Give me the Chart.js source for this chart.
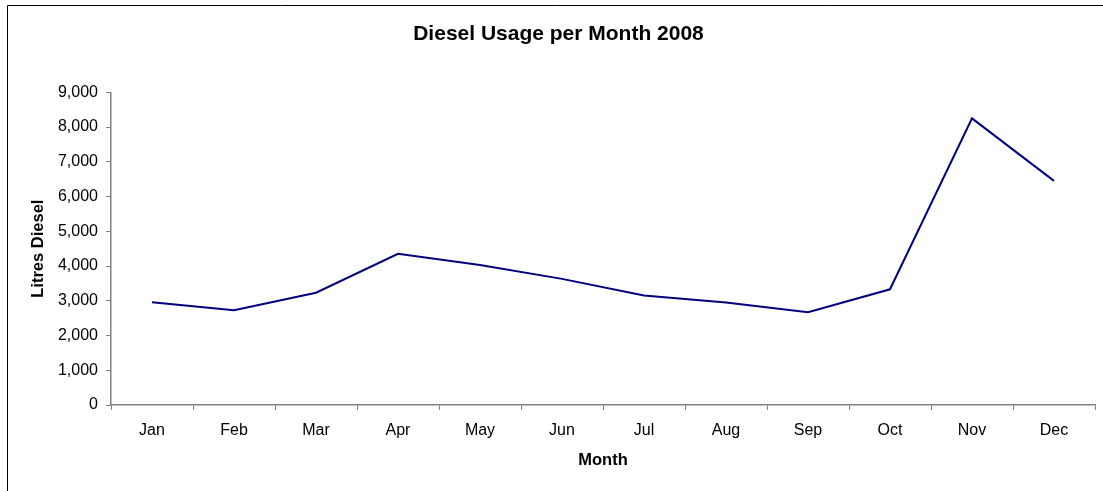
<!DOCTYPE html>
<html>
<head>
<meta charset="utf-8">
<title>Diesel Usage per Month 2008</title>
<script src="https://cdn.jsdelivr.net/npm/chart.js@4/dist/chart.umd.min.js"></script>
<style>
  html, body { margin: 0; padding: 0; background: #ffffff; }
  #wrap { position: relative; width: 1103px; height: 491px; }
</style>
</head>
<body>
<div id="wrap"><canvas id="chart" width="1103" height="491"></canvas></div>
<script>
// Monthly diesel consumption, litres
const months = ['Jan', 'Feb', 'Mar', 'Apr', 'May', 'Jun', 'Jul', 'Aug', 'Sep', 'Oct', 'Nov', 'Dec'];
const litres = [2960, 2730, 3230, 4350, 4030, 3630, 3150, 2950, 2670, 3330, 8250, 6450];
const yTicks = [0, 1000, 2000, 3000, 4000, 5000, 6000, 7000, 8000, 9000];

const FONT = 'Liberation Sans, Arial, Helvetica, sans-serif';
const AXIS_GREY = '#808080';

// Thin frame around the chart, open at the right and bottom edges
const framePlugin = {
  id: 'frame',
  afterDraw(chart) {
    const ctx = chart.ctx;
    ctx.save();
    ctx.strokeStyle = '#000000';
    ctx.lineWidth = 1;
    ctx.beginPath();
    ctx.moveTo(7.5, chart.height + 2);
    ctx.lineTo(7.5, 5.5);
    ctx.lineTo(chart.width + 2, 5.5);
    ctx.stroke();
    ctx.restore();
  }
};

new Chart(document.getElementById('chart'), {
  type: 'line',
  data: {
    labels: months,
    datasets: [{
      label: 'Litres Diesel',
      data: litres,
      borderColor: '#000080',
      backgroundColor: '#000080',
      borderWidth: 2,
      pointRadius: 0,
      pointHoverRadius: 0,
      tension: 0,
      fill: false
    }]
  },
  options: {
    responsive: false,
    animation: false,
    events: [],
    layout: { padding: { left: 22, right: 8, top: 0, bottom: 0 } },
    plugins: {
      legend: { display: false },
      tooltip: { enabled: false },
      title: {
        display: true,
        text: 'Diesel Usage per Month 2008',
        color: '#000000',
        font: { family: FONT, size: 21, weight: 'bold' },
        padding: { top: 21.4, bottom: 45.7 }
      }
    },
    scales: {
      x: {
        type: 'category',
        offset: true,
        grid: {
          offset: true,
          drawOnChartArea: false,
          drawTicks: true,
          tickLength: 5,
          color: AXIS_GREY,
          lineWidth: 1
        },
        border: { display: true, color: AXIS_GREY, width: 1.5 },
        ticks: {
          color: '#000000',
          font: { family: FONT, size: 16 },
          padding: 11,
          maxRotation: 0,
          autoSkip: false
        },
        title: {
          display: true,
          text: 'Month',
          color: '#000000',
          font: { family: FONT, size: 16.5, weight: 'bold' },
          padding: { top: 0, bottom: 21.1 }
        },
        afterFit(scale) { scale.height = 86; }
      },
      y: {
        min: 0,
        max: 9000,
        afterBuildTicks(scale) { scale.ticks = yTicks.map(v => ({ value: v })); },
        grid: {
          drawOnChartArea: false,
          drawTicks: true,
          tickLength: 5,
          color: AXIS_GREY,
          lineWidth: 1
        },
        border: { display: true, color: AXIS_GREY, width: 1.5 },
        ticks: {
          color: '#000000',
          font: { family: FONT, size: 16 },
          padding: 8,
          callback: (v) => Number(v).toLocaleString('en-US')
        },
        title: {
          display: true,
          text: 'Litres Diesel',
          color: '#000000',
          font: { family: FONT, size: 16.5, weight: 'bold' },
          padding: { top: 6.1, bottom: 0 }
        },
        afterFit(scale) { scale.width = 89; }
      }
    }
  },
  plugins: [framePlugin]
});
</script>
</body>
</html>
